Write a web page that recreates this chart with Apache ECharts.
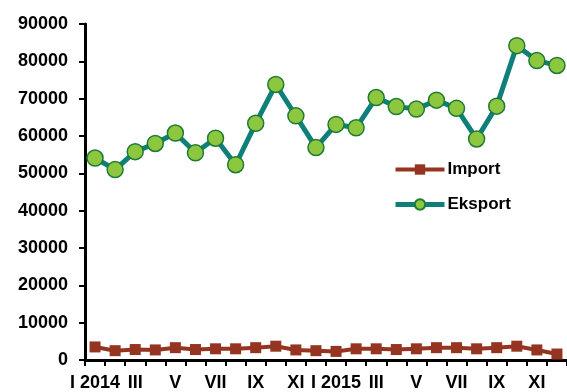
<!DOCTYPE html>
<html>
<head>
<meta charset="utf-8">
<style>
  html, body { margin: 0; padding: 0; background: #fff; }
  #chart { width: 567px; height: 392px; }
</style>
<script src="https://cdn.jsdelivr.net/npm/echarts@6/dist/echarts.min.js"></script>
</head>
<body>
<div id="chart"></div>
<script>
// Monthly categories, January 2014 to December 2015
const months = ['I 2014', 'II', 'III', 'IV', 'V', 'VI', 'VII', 'VIII', 'IX', 'X', 'XI', 'XII',
                'I 2015', 'II', 'III', 'IV', 'V', 'VI', 'VII', 'VIII', 'IX', 'X', 'XI', 'XII'];

const importValues = [3500, 2500, 2800, 2700, 3300, 2800, 3000, 3000, 3300, 3700, 2700, 2500,
                      2300, 3000, 3000, 2800, 3000, 3300, 3300, 3000, 3300, 3700, 2700, 1600];

const eksportValues = [54100, 51000, 55800, 58000, 60800, 55500, 59400, 52300, 63400, 73800, 65400, 56900,
                       63100, 62200, 70300, 67900, 67200, 69600, 67400, 59200, 68000, 84200, 80200, 78900];

const yTicks = { min: 0, max: 90000, interval: 10000 };

const FONT = { fontFamily: '"Liberation Sans", Arial, sans-serif', fontWeight: 'bold', fontSize: 18, color: '#000' };

const IMPORT_COLOR = '#943421';
const EKSPORT_LINE = '#0F7F7A';

const chart = echarts.init(document.getElementById('chart'), null, { renderer: 'canvas' });

chart.setOption({
  animation: false,
  backgroundColor: '#fff',
  grid: { left: 85, top: 24, width: 487, height: 339, containLabel: false },
  legend: {
    orient: 'vertical',
    left: 393,
    top: 161,
    padding: 0,
    itemWidth: 49,
    itemHeight: 13,
    itemGap: 18,
    textStyle: Object.assign({}, FONT, { fontSize: 17, padding: [0, 0, 0, -2] }),
    data: [
      { name: 'Import', lineStyle: { width: 4 } },
      { name: 'Eksport', lineStyle: { width: 5 } }
    ]
  },
  xAxis: {
    type: 'category',
    data: months,
    boundaryGap: true,
    axisLine: { lineStyle: { color: '#000', width: 3 } },
    axisTick: { show: true, interval: 0, length: 6, lineStyle: { color: '#000', width: 2 } },
    axisLabel: Object.assign({}, FONT, { interval: 1, margin: 14 }),
    splitLine: { show: false }
  },
  yAxis: {
    type: 'value',
    min: yTicks.min,
    max: yTicks.max,
    interval: yTicks.interval,
    axisLine: { show: true, lineStyle: { color: '#000', width: 3 } },
    axisTick: { show: true, length: 6, lineStyle: { color: '#000', width: 2 } },
    axisLabel: Object.assign({}, FONT, { margin: 17, formatter: v => String(v) }),
    splitLine: { show: false }
  },
  series: [
    {
      name: 'Import',
      type: 'line',
      data: importValues,
      symbol: 'rect',
      symbolSize: 11,
      showSymbol: true,
      showAllSymbol: true,
      lineStyle: { color: IMPORT_COLOR, width: 4 },
      itemStyle: { color: IMPORT_COLOR, borderColor: IMPORT_COLOR, borderWidth: 0 },
      z: 3
    },
    {
      name: 'Eksport',
      type: 'line',
      data: eksportValues,
      symbol: 'circle',
      symbolSize: 16,
      showSymbol: true,
      showAllSymbol: true,
      lineStyle: { color: EKSPORT_LINE, width: 5 },
      itemStyle: { color: '#8DC63F', borderColor: '#1E7B35', borderWidth: 1.5 },
      z: 4
    }
  ]
});
</script>
</body>
</html>
